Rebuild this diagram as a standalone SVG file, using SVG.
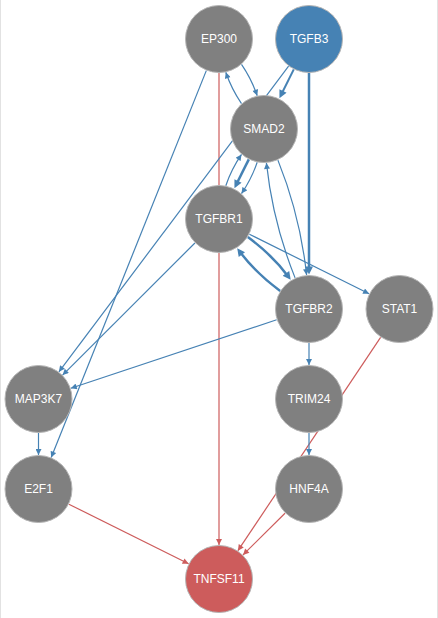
<svg xmlns="http://www.w3.org/2000/svg" width="438" height="618" viewBox="0 0 438 618">
<style>
.node circle{fill:#808080;stroke:#b5b5b5;stroke-width:1}
.node text{fill:#ffffff;font-family:"Liberation Sans",Arial,sans-serif;font-size:12px;text-anchor:middle}
</style>
<defs>
<marker id="ab" viewBox="0 0 10 10" refX="10" refY="5" markerWidth="7" markerHeight="6" markerUnits="userSpaceOnUse" orient="auto"><path d="M0,0 L10,5 L0,10 z" fill="#4682b4"/></marker>
<marker id="abk" viewBox="0 0 10 10" refX="5.56" refY="5" markerWidth="9" markerHeight="8" markerUnits="userSpaceOnUse" orient="auto"><path d="M0,0 L10,5 L0,10 z" fill="#4682b4"/></marker>
<marker id="ar" viewBox="0 0 10 10" refX="10" refY="5" markerWidth="7" markerHeight="6" markerUnits="userSpaceOnUse" orient="auto"><path d="M0,0 L10,5 L0,10 z" fill="#cd5c5c"/></marker>
</defs>
<rect x="0" y="0" width="438" height="618" fill="#ffffff"/>
<line x1="0.5" y1="0" x2="0.5" y2="618" stroke="#e2e2e2" stroke-width="1"/>
<line x1="437.5" y1="0" x2="437.5" y2="618" stroke="#e2e2e2" stroke-width="1"/>
<g id="edges" fill="none">
<g stroke="#cd5c5c" stroke-width="1.2" marker-end="url(#ar)">
<path d="M219 73 L219 545"/>
<path d="M68.9 504.2 L188.6 563.8"/>
<path d="M380.6 337.3 L237.9 550.7"/>
<path d="M285 513.2 L243 554.9"/>
</g>
<g stroke="#4682b4" stroke-width="1.2" marker-end="url(#ab)">
<path d="M206.3 70.6 L51.2 457.5"/>
<path d="M288.6 66.2 L58.9 371.8"/>
<path d="M194.9 243 L62.6 375.1"/>
<path d="M276.7 319.7 L70.8 388.3"/>
<path d="M38.5 433 L38.5 455"/>
<path d="M249.4 234.2 L369.1 293.8"/>
<path d="M309 343 L309 365"/>
<path d="M309 433 L309 455"/>
<path d="M241.5 64.4 Q251.5 79 257.2 95.7"/>
<path d="M241.5 103.6 Q231.5 89 225.8 72.3"/>
<path d="M277.9 160.1 Q300.2 215.6 306.6 275.1"/>
<path d="M295.1 277.9 Q272.8 222.4 266.4 162.9"/>
<path d="M257.2 162.3 Q251.5 179 241.5 193.6"/>
<path d="M225.8 185.7 Q231.5 169 241.5 154.4"/>
</g>
<g stroke="#4682b4" marker-end="url(#abk)">
<path stroke-width="2.5" d="M309 73 L309 271"/>
<path stroke-width="2" d="M293.8 69.4 L281 95"/>
<path stroke-width="2.5" d="M247.8 237 Q272.7 255.3 288.6 277"/>
<path stroke-width="2.5" d="M280.2 291 Q255.3 272.7 239.3 251"/>
<path stroke-width="2.5" d="M248.8 159.4 L236 185"/>
</g>
</g>
<g id="EP300" class="node"><circle cx="219" cy="39" r="33.5"/><text x="219" y="43">EP300</text></g>
<g id="TGFB3" class="node"><circle cx="309" cy="39" r="33.5" style="fill:#4682b4"/><text x="309" y="43">TGFB3</text></g>
<g id="SMAD2" class="node"><circle cx="264" cy="129" r="33.5"/><text x="264" y="133">SMAD2</text></g>
<g id="TGFBR1" class="node"><circle cx="219" cy="219" r="33.5"/><text x="219" y="223">TGFBR1</text></g>
<g id="TGFBR2" class="node"><circle cx="309" cy="309" r="33.5"/><text x="309" y="313">TGFBR2</text></g>
<g id="STAT1" class="node"><circle cx="399.5" cy="309" r="33.5"/><text x="399.5" y="313">STAT1</text></g>
<g id="MAP3K7" class="node"><circle cx="38.5" cy="399" r="33.5"/><text x="38.5" y="403">MAP3K7</text></g>
<g id="TRIM24" class="node"><circle cx="309" cy="399" r="33.5"/><text x="309" y="403">TRIM24</text></g>
<g id="E2F1" class="node"><circle cx="38.5" cy="489" r="33.5"/><text x="38.5" y="493">E2F1</text></g>
<g id="HNF4A" class="node"><circle cx="309" cy="489" r="33.5"/><text x="309" y="493">HNF4A</text></g>
<g id="TNFSF11" class="node"><circle cx="219" cy="579" r="33.5" style="fill:#cd5c5c"/><text x="219" y="583">TNFSF11</text></g>
</svg>
